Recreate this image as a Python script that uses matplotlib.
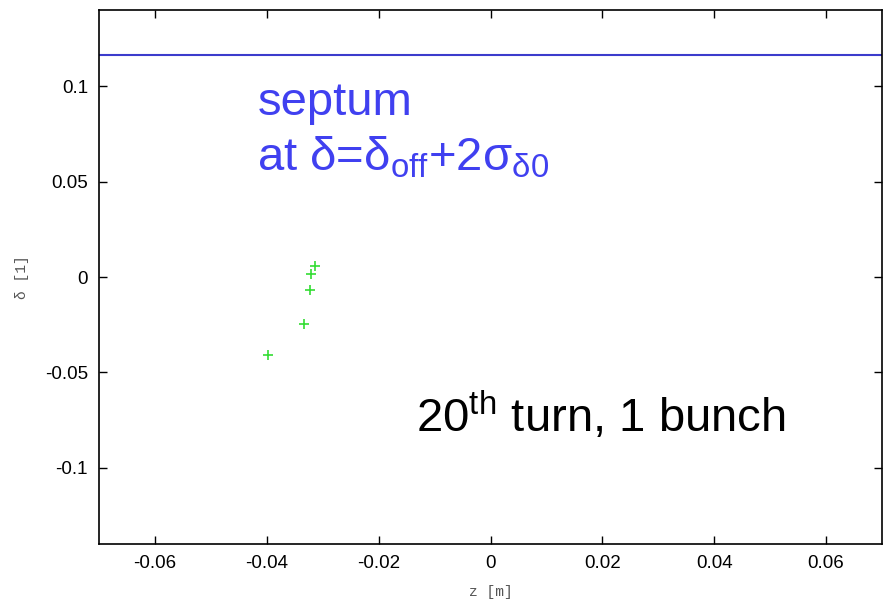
import matplotlib
matplotlib.use("Agg")
import matplotlib.pyplot as plt

# beam particles after 20 turns
z_pts = [-0.0314, -0.0321, -0.0323, -0.0333, -0.0397]
d_pts = [0.0058, 0.0014, -0.0068, -0.0249, -0.0410]
septum_delta = 0.1163

xticks = [-0.06, -0.04, -0.02, 0, 0.02, 0.04, 0.06]
yticks = [-0.1, -0.05, 0, 0.05, 0.1]

plt.rcParams['font.family'] = ['Liberation Sans', 'DejaVu Sans']
plt.rcParams['mathtext.fontset'] = 'custom'
plt.rcParams['mathtext.rm'] = 'Liberation Sans'
plt.rcParams['mathtext.it'] = 'Liberation Sans'

fig = plt.figure(figsize=(8.83, 6.02), dpi=100)
ax = fig.add_axes([99/883, 58/602, 783/883, 534/602])

ax.axhline(septum_delta, color="#3b3bcc", lw=1.5)
ax.plot(z_pts, d_pts, linestyle="none", marker="+", color="#33dd33", ms=7, mew=1.2)

ax.set_xlim(-0.07, 0.07)
ax.set_ylim(-0.14, 0.14)
ax.set_xticks(xticks)
ax.set_yticks(yticks)
ax.set_xticklabels(["-0.06", "-0.04", "-0.02", "0", "0.02", "0.04", "0.06"])
ax.set_yticklabels(["-0.1", "-0.05", "0", "0.05", "0.1"])
ax.tick_params(direction="in", length=6, width=1, top=True, right=True, labelsize=13.5, pad=8)
for s in ax.spines.values():
    s.set_linewidth(1.2)

ax.set_xlabel("z [m]", family="Liberation Mono", fontsize=10.5, color="#555555", labelpad=9)
ax.set_ylabel("δ [1]", family="Liberation Mono", fontsize=10.5, color="#555555", labelpad=11)

ax.text(-0.0417, 0.0847, "septum", color="#4040f0", fontsize=34, va="baseline")
ax.text(-0.0417, 0.0558, r"at δ=δ$_{\rm off}$+2σ$_{δ0}$", color="#4040f0", fontsize=34, va="baseline")
ax.text(-0.0133, -0.081, r"20$^{\rm th}$ turn, 1 bunch", color="black", fontsize=34, va="baseline")

fig.savefig("out.png", dpi=100)
